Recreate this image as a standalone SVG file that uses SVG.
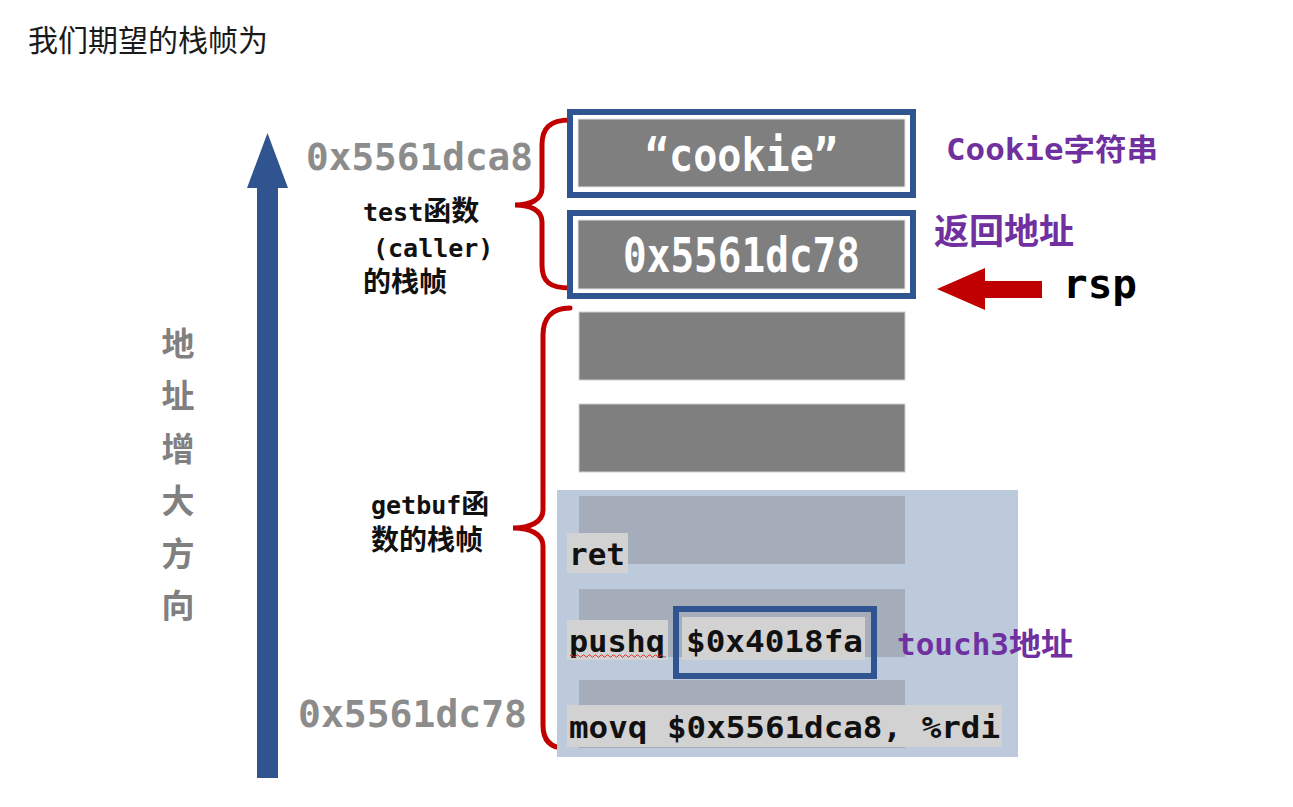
<svg xmlns="http://www.w3.org/2000/svg" width="1293" height="807" viewBox="0 0 1293 807">
<style>
.mono{font-family:"DejaVu Sans Mono","Liberation Mono","Noto Sans CJK SC",monospace;font-weight:bold}
.cjk{font-family:"Noto Sans CJK SC","Noto Sans",sans-serif}
.addr{fill:#8c8c8c;font-size:37px}
.lbl{fill:#111;font-size:25px}
.purple{fill:#7030a0}
.code{fill:#111;font-size:31px}
.hl{fill:#d2d2d2}
.row{fill:#7f7f7f;stroke:#d0d0d0;stroke-width:1}
.rowp{fill:#a5adba}
.brace{fill:none;stroke:#c00000;stroke-width:5;stroke-linecap:round}
.bbox{fill:#fff;stroke:#30548f;stroke-width:6}
.inbox{fill:#7f7f7f;stroke:#e6e6e6;stroke-width:1}
.white{fill:#fff}
</style>

<text x="28" y="51" class="cjk" font-size="30" fill="#1a1a1a">我们期望的栈帧为</text>

<g id="connectors">
  <path id="addr-arrow" d="M257,188 L247,188 L267.5,133 L288,188 L278,188 L278,778 L257,778 Z" fill="#30548f"/>
  <path id="brace-test" class="brace" d="M570,120 C550,120 542,128 542,145 L542,188 C542,200 530,205 515,205 C530,205 542,210 542,222 L542,265 C542,282 550,288 570,288"/>
  <path id="brace-getbuf" class="brace" d="M570,308 C552,308 543,318 543,335 L543,510 C543,522 530,528 513,528 C530,528 543,534 543,546 L543,725 C543,740 550,748 565,748"/>
  <path id="rsp-arrow" d="M937,289 L985,268 L985,281 L1042,281 L1042,298 L985,298 L985,310 Z" fill="#c00000"/>
</g>

<g id="axis-label" class="cjk" font-size="33" font-weight="bold" fill="#808080" text-anchor="middle">
  <text x="178" y="356">地</text>
  <text x="178" y="408">址</text>
  <text x="178" y="461">增</text>
  <text x="178" y="513">大</text>
  <text x="178" y="566">方</text>
  <text x="178" y="618">向</text>
</g>

<g id="addr-top"><text x="306" y="170" class="mono addr" textLength="227" lengthAdjust="spacingAndGlyphs">0x5561dca8</text></g>
<g id="addr-bottom"><text x="298" y="727" class="mono addr" textLength="229" lengthAdjust="spacingAndGlyphs">0x5561dc78</text></g>

<g id="label-test" class="mono lbl">
  <text x="363" y="221">test<tspan class="cjk" font-size="28">函数</tspan></text>
  <text x="373" y="257">(caller)</text>
  <text x="363" y="292" class="cjk" font-size="28">的栈帧</text>
</g>

<g id="label-getbuf" class="mono lbl">
  <text x="371" y="514">getbuf<tspan class="cjk" font-size="28">函</tspan></text>
  <text x="371" y="550" class="cjk" font-size="28">数的栈帧</text>
</g>

<g id="cookie-box">
  <rect class="bbox" x="570" y="112" width="343" height="83"/>
  <rect class="inbox" x="578" y="119" width="327" height="68"/>
  <text x="645" y="171" class="mono white" font-size="46" textLength="193" lengthAdjust="spacingAndGlyphs">“cookie”</text>
</g>

<g id="ret-box">
  <rect class="bbox" x="570" y="213" width="343" height="83"/>
  <rect class="inbox" x="578" y="220" width="327" height="69"/>
  <text x="623" y="272" class="mono white" font-size="48" textLength="237" lengthAdjust="spacingAndGlyphs">0x5561dc78</text>
</g>

<g id="row1"><rect class="row" x="579" y="312" width="326" height="68"/></g>
<g id="row2"><rect class="row" x="579" y="404" width="326" height="68"/></g>

<g id="inject-panel">
  <rect x="557" y="490" width="461" height="267" fill="#bccadb"/>
  <rect class="rowp" x="579" y="496" width="326" height="68"/>
  <rect class="rowp" x="579" y="589" width="326" height="68"/>
  <rect class="rowp" x="579" y="680" width="326" height="68"/>
</g>

<g id="code-ret">
  <rect class="hl" x="567" y="533" width="61" height="40"/>
  <text x="569" y="565" class="mono code" textLength="56" lengthAdjust="spacingAndGlyphs">ret</text>
</g>

<g id="code-pushq">
  <rect class="hl" x="567" y="620" width="101" height="40"/>
  <text x="569" y="652" class="mono code" textLength="96" lengthAdjust="spacingAndGlyphs">pushq</text>
  <path d="M570 656 q1.5 -2.5 3 0 t3 0 t3 0 t3 0 t3 0 t3 0 t3 0 t3 0 t3 0 t3 0 t3 0 t3 0 t3 0 t3 0 t3 0 t3 0 t3 0 t3 0 t3 0 t3 0 t3 0 t3 0 t3 0 t3 0 t3 0 t3 0 t3 0 t3 0 t3 0 t3 0 t3 0 t3 0" fill="none" stroke="#e03030" stroke-width="1"/>
</g>

<g id="code-touch3">
  <rect x="676" y="609" width="198" height="67" fill="none" stroke="#30548f" stroke-width="6"/>
  <rect class="hl" x="682" y="617" width="183" height="43"/>
  <text x="686" y="652" class="mono code" textLength="177" lengthAdjust="spacingAndGlyphs">$0x4018fa</text>
</g>

<g id="code-movq">
  <rect class="hl" x="567" y="705" width="435" height="42"/>
  <text x="569" y="738" class="mono code" textLength="431" lengthAdjust="spacingAndGlyphs">movq $0x5561dca8, %rdi</text>
</g>

<g id="label-cookie"><text x="946" y="160" class="mono purple" font-size="31" textLength="212" lengthAdjust="spacingAndGlyphs">Cookie<tspan class="cjk" font-size="30">字符串</tspan></text></g>
<g id="label-ret"><text x="934" y="244" class="cjk purple" font-size="35" font-weight="bold">返回地址</text></g>
<g id="label-touch3"><text x="897" y="655" class="mono purple" font-size="30" textLength="176" lengthAdjust="spacingAndGlyphs">touch3<tspan class="cjk" font-size="31">地址</tspan></text></g>
<g id="label-rsp"><text x="1063" y="298" class="mono" font-size="41" fill="#000">rsp</text></g>
</svg>
